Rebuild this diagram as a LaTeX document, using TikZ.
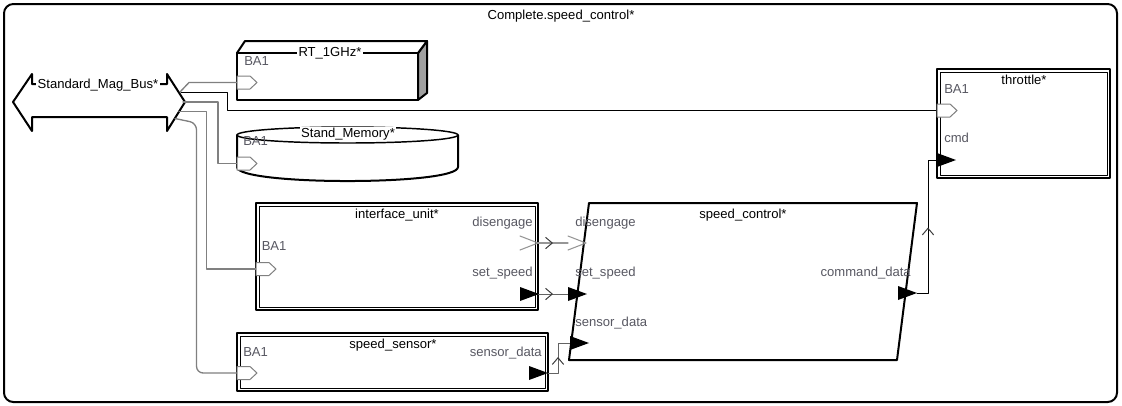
\documentclass[tikz,border=0pt]{standalone}
\usepackage{fontspec}
\setmainfont{Liberation Sans}
\usepackage{tikz}
\usetikzlibrary{arrows.meta,decorations.markings}
\definecolor{portlbl}{RGB}{88,88,98}
\definecolor{linkgray}{RGB}{128,128,128}
\definecolor{evtgray}{RGB}{150,150,150}
\definecolor{sidegray}{RGB}{160,160,160}
\definecolor{chevgray}{RGB}{60,60,60}
\tikzset{
  ttl/.style={font=\fontsize{9.8}{11}\selectfont, inner sep=1pt, text height=7pt, text depth=2pt},
  plbl/.style={ttl, text=portlbl, inner sep=0pt},
  bapt/.style={draw=linkgray, fill=white, line width=0.75pt},
  evpt/.style={draw=evtgray, line width=0.8pt},
  buslink/.style={draw=linkgray, line width=1pt},
  datalink/.style={draw=chevgray!80, line width=0.75pt},
  midarrow/.style={postaction={decorate, decoration={markings,
      mark=at position 0.5 with {\arrow[chevgray, line width=0.75pt]{Straight Barb[length=5pt,width=8.5pt]}}}}},
}
% ports, placed by their left middle point
\newcommand{\baport}[1]{\draw[bapt, shift={(#1)}] (0,-6.5) -- (13,-6.5) -- (20,0) -- (13,6.5) -- (0,6.5) -- cycle;}
\newcommand{\dport}[1]{\fill[shift={(#1)}] (0,-7) -- (19,0) -- (0,7) -- cycle;}
\newcommand{\eport}[1]{\draw[evpt, shift={(#1)}] (0,-7) -- (18,0) -- (0,7);}
\newcommand{\sysrect}[4]{%
  \draw[line width=1.6pt, fill=white] (#1,#2) rectangle (#3,#4);
  \draw[line width=0.7pt] ({#1+3},{#2+3}) rectangle ({#3-3},{#4-3});}

\begin{document}
\begin{tikzpicture}[line cap=round,line join=round,x=0.75pt,y=-0.75pt]
  \useasboundingbox (0,0) rectangle (1122,405);
  \draw[line width=1.5pt, rounded corners=7pt] (4,4) rectangle (1117,402);
  \node[ttl] (tComplete) at (561,16) {Complete.speed\_control*};

  % bus
  \draw[line width=1.5pt, fill=white] (13,102) -- (32,74) -- (32,84) -- (167,84) -- (167,74) -- (185,102)
    -- (167,131) -- (167,117) -- (32,117) -- (32,131) -- cycle;
  \node[ttl, fill=white] (tBus) at (98,85) {Standard\_Mag\_Bus*};

  % processor
  \draw[line width=1.5pt, fill=sidegray] (418,53) -- (427,41) -- (427,93) -- (418,100) -- cycle;
  \draw[line width=1.5pt, fill=white] (237,53) -- (245,41) -- (427,41) -- (418,53) -- cycle;
  \draw[line width=1.5pt, fill=white] (237,53) rectangle (418,100);
  \node[ttl, fill=white] (tRT) at (330,53) {RT\_1GHz*};
  \node[plbl, anchor=west] (lRT) at (244,62.5) {BA1};

  % memory
  \draw[line width=1.5pt, fill=white] (237,135) -- (237,167) .. controls (237,185.7) and (458,185.7) .. (458,167) -- (458,135);
  \draw[line width=1.1pt, fill=white] (347.5,135) ellipse [x radius=110.5, y radius=8];
  \node[ttl, fill=white] (tMem) at (348,134) {Stand\_Memory*};
  \node[plbl, anchor=west] (lMem) at (243,142) {BA1};

  % systems
  \sysrect{256}{203}{538}{310}
  \node[ttl] (tIU) at (397,215) {interface\_unit*};
  \node[plbl, anchor=west] (lIUba) at (261.5,247) {BA1};
  \node[plbl, anchor=east] (lIUdis) at (533,223) {disengage};
  \node[plbl, anchor=east] (lIUset) at (533,273) {set\_speed};

  \sysrect{237}{333}{548}{391}
  \node[ttl] (tSS) at (393,345) {speed\_sensor*};
  \node[plbl, anchor=west] (lSSba) at (243,353) {BA1};
  \node[plbl, anchor=east] (lSSsen) at (542,353) {sensor\_data};

  \sysrect{937}{69}{1110}{178}
  \node[ttl] (tTh) at (1024,81) {throttle*};
  \node[plbl, anchor=west] (lThba) at (944,90) {BA1};
  \node[plbl, anchor=west] (lThcmd) at (944,139) {cmd};

  % process
  \draw[line width=1.5pt, fill=white] (589,203) -- (917,203) -- (897,360) -- (569,360) -- cycle;
  \node[ttl] (tSC) at (743,215) {speed\_control*};
  \node[plbl, anchor=west] (lSCdis) at (575,223) {disengage};
  \node[plbl, anchor=west] (lSCset) at (575,273) {set\_speed};
  \node[plbl, anchor=west] (lSCsen) at (575,323) {sensor\_data};
  \node[plbl, anchor=east] (lSCcmd) at (911,273) {command\_data};

  % port points
  \coordinate (rtBA) at (237,82.5);
  \coordinate (memBA) at (237,163.5);
  \coordinate (iuBA) at (256,269);
  \coordinate (ssBA) at (237,373);
  \coordinate (thBA) at (937,110.5);
  \coordinate (thCmd) at (937,160);
  \coordinate (iuDisB) at (520,243);
  \coordinate (iuSetB) at (520,294);
  \coordinate (ssSenB) at (529,373);
  \coordinate (scDis) at (568,243);
  \coordinate (scSet) at (568,294);
  \coordinate (scSen) at (570,343);
  \coordinate (scCmdB) at (898,293);
  \coordinate (iuDis) at (538,243);
  \coordinate (iuSet) at (538,294);
  \coordinate (ssSen) at (548,373);
  \coordinate (scCmd) at (917,293);
  % bus points
  \coordinate (bRT) at (180,92);
  \coordinate (bTh) at (181,92.5);
  \coordinate (bMem) at (183,102);
  \coordinate (bIU) at (179,111.7);
  \coordinate (bSS) at (175,118.5);

  % bus access
  \draw[buslink] (bRT) -- (189,82.5) -- (rtBA);
  \draw[line width=0.75pt] (bTh) -- (227,92.5) |- (thBA);
  \draw[buslink] (bMem) -- (218,102) |- (memBA);
  \draw[buslink] (bIU) -- (206.5,111.7) |- (iuBA);
  \draw[buslink, rounded corners=5pt] (bSS) -- (196.5,123) |- (ssBA);

  % connections
  \draw[draw=evtgray, line width=0.8pt, midarrow] (iuDis) -- (scDis);
  \draw[datalink, midarrow] (iuSet) -- (scSet);
  \draw[datalink, midarrow] (ssSen) -- (558,373) |- (scSen);
  \draw[line width=0.75pt, midarrow] (scCmd) -- (928,293) |- (thCmd);

  % ports
  \baport{rtBA}
  \baport{memBA}
  \baport{iuBA}
  \baport{ssBA}
  \baport{thBA}
  \dport{thCmd}
  \eport{iuDisB}
  \dport{iuSetB}
  \dport{ssSenB}
  \eport{scDis}
  \dport{scSet}
  \dport{scSen}
  \dport{scCmdB}
\end{tikzpicture}
\end{document}
